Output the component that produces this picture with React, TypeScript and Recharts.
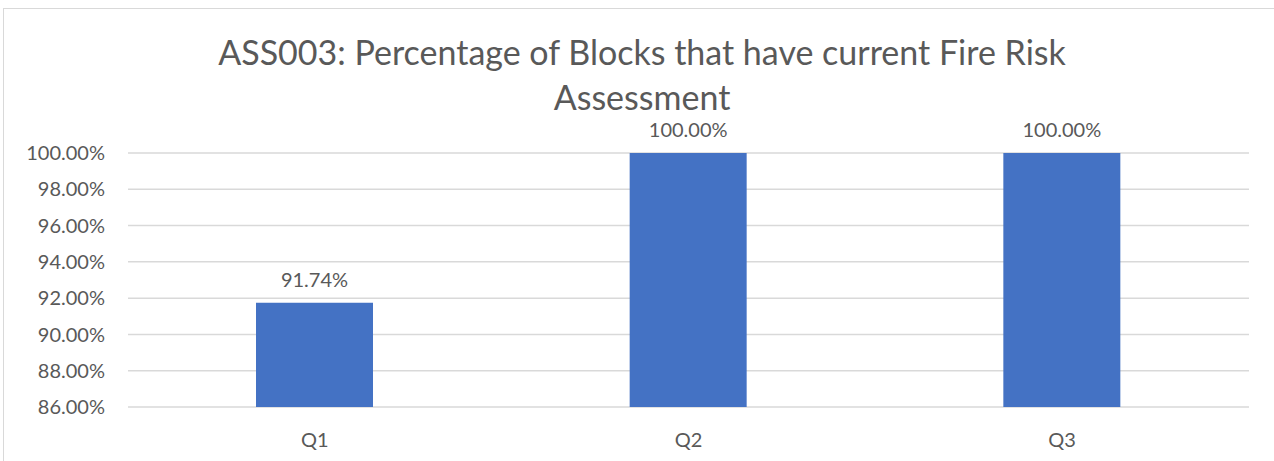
import { Bar, BarChart, CartesianGrid, LabelList, XAxis, YAxis } from "recharts";

const categories = ["Q1", "Q2", "Q3"];
const values = [91.74, 100, 100];
const yTicks = [86, 88, 90, 92, 94, 96, 98, 100];
const titleLines = [
  "ASS003: Percentage of Blocks that have current Fire Risk",
  "Assessment",
];

const FONT = "Lato, 'Open Sans', sans-serif";
const TEXT = "#595959";

const fmt = (v: number) => `${v.toFixed(2)}%`;

export default function App() {
  const data = categories.map((q, i) => ({ q, value: values[i] }));

  return (
    <div style={{ position: "absolute", left: 0, top: 0, width: 1274, height: 461, overflow: "hidden", background: "#fff" }}>
      {/* chart frame */}
      <div
        style={{
          position: "absolute",
          left: 3,
          top: 8,
          width: 1300,
          height: 470,
          borderLeft: "1px solid #d9d9d9",
          borderTop: "1px solid #d9d9d9",
        }}
      />
      <div
        style={{
          position: "absolute",
          left: 142,
          width: 1000,
          top: 29,
          textAlign: "center",
          fontFamily: FONT,
          fontSize: 34,
          lineHeight: "45px",
          color: TEXT,
          whiteSpace: "nowrap",
        }}
      >
        {titleLines.map((t) => (
          <div key={t}>{t}</div>
        ))}
      </div>
      <div style={{ position: "absolute", left: 0, top: 0 }}>
        <BarChart
          width={1274}
          height={461}
          data={data}
          margin={{ top: 153, right: 25, left: 8, bottom: 24 }}
          barSize={117}
        >
          <CartesianGrid vertical={false} stroke="#d9d9d9" strokeWidth={1.5} />
          <XAxis
            dataKey="q"
            height={30}
            axisLine={false}
            tickLine={false}
            tickSize={0}
            tickMargin={26}
            tick={{ fill: TEXT, fontSize: 20, fontFamily: FONT }}
          />
          <YAxis
            width={120}
            domain={[86, 100]}
            ticks={yTicks}
            tickFormatter={fmt}
            axisLine={false}
            tickLine={false}
            tickSize={0}
            tickMargin={23}
            allowDataOverflow
            tick={{ fill: TEXT, fontSize: 20, fontFamily: FONT }}
          />
          <Bar dataKey="value" fill="#4472C4" isAnimationActive={false}>
            <LabelList
              dataKey="value"
              position="top"
              offset={16}
              formatter={(v: number) => fmt(v)}
              style={{ fill: TEXT, fontSize: 20, fontFamily: FONT }}
            />
          </Bar>
        </BarChart>
      </div>
    </div>
  );
}
